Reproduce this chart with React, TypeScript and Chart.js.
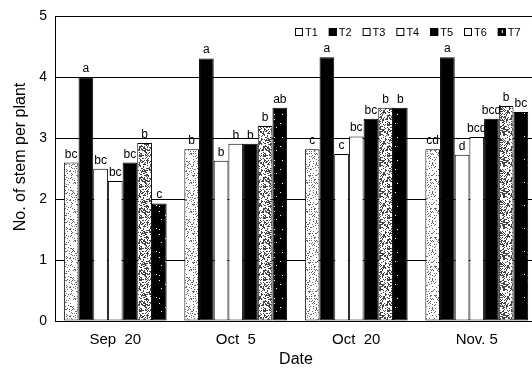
import React, { useEffect, useRef } from "react";
import { Chart, registerables } from "chart.js";

Chart.register(...registerables);

const categories = ["Sep  20", "Oct  5", "Oct  20", "Nov. 5"];
const seriesNames = ["T1", "T2", "T3", "T4", "T5", "T6", "T7"];

const t1Values = [2.6, 2.82, 2.82, 2.82];
const t2Values = [4.0, 4.31, 4.33, 4.33];
const t3Values = [2.5, 2.63, 2.74, 2.73];
const t4Values = [2.3, 2.91, 3.03, 3.02];
const t5Values = [2.6, 2.91, 3.32, 3.32];
const t6Values = [2.92, 3.2, 3.5, 3.53];
const t7Values = [1.93, 3.5, 3.5, 3.43];

const t1Letters = ["bc", "b", "c", "cd"];
const t2Letters = ["a", "a", "a", "a"];
const t3Letters = ["bc", "b", "c", "d"];
const t4Letters = ["bc", "b", "bc", "bcd"];
const t5Letters = ["bc", "b", "bc", "bcd"];
const t6Letters = ["b", "b", "b", "b"];
const t7Letters = ["c", "ab", "b", "bc"];

const yAxisTitle = "No. of stem per plant";
const xAxisTitle = "Date";

const FONT = "'Liberation Sans', Arial, Helvetica, sans-serif";

// deterministic speckle texture (hash of pixel coordinates)
function speckle(bg: string, fg: string, size: number, threshold: number, salt: number) {
  const c = document.createElement("canvas");
  c.width = size;
  c.height = size;
  const g = c.getContext("2d")!;
  g.fillStyle = bg;
  g.fillRect(0, 0, size, size);
  g.fillStyle = fg;
  for (let y = 0; y < size; y++) {
    for (let x = 0; x < size; x++) {
      let h = Math.imul(x + 1, 374761393) ^ Math.imul(y + 7 + salt, 668265263);
      h = Math.imul(h ^ (h >>> 13), 1274126177);
      h = (h ^ (h >>> 16)) >>> 0;
      if (h % 1000 < threshold) g.fillRect(x, y, 1, 1);
    }
  }
  const ctx = document.createElement("canvas").getContext("2d")!;
  return ctx.createPattern(c, "repeat") as CanvasPattern;
}

export default function App() {
  const ref = useRef<HTMLCanvasElement | null>(null);

  useEffect(() => {
    const canvas = ref.current;
    if (!canvas) return;
    Chart.defaults.font.family = FONT;

    const lightStipple = speckle("#ffffff", "#666666", 29, 170, 3);
    const denseStipple = speckle("#ffffff", "#444444", 31, 400, 11);
    const darkSpeck = speckle("#000000", "#ffffff", 23, 12, 5);

    const values = [t1Values, t2Values, t3Values, t4Values, t5Values, t6Values, t7Values];
    const letters = [t1Letters, t2Letters, t3Letters, t4Letters, t5Letters, t6Letters, t7Letters];
    const fills: (string | CanvasPattern)[] = [
      lightStipple, "#000000", "#ffffff", "#ffffff", "#000000", denseStipple, darkSpeck,
    ];
    const legendFills = ["#ffffff", "#000000", "#ffffff", "#ffffff", "#000000", "#ffffff", "#000000"];

    const lettersPlugin = {
      id: "letters",
      afterDatasetsDraw(chart: any) {
        const ctx = chart.ctx;
        ctx.save();
        ctx.font = `12px ${FONT}`;
        ctx.fillStyle = "#000";
        ctx.textAlign = "center";
        ctx.textBaseline = "alphabetic";
        chart.data.datasets.forEach((_: any, i: number) => {
          const meta = chart.getDatasetMeta(i);
          meta.data.forEach((el: any, j: number) => {
            ctx.fillText(letters[i][j], el.x, el.y - 5);
          });
        });
        ctx.restore();
      },
    };

    const legendPlugin = {
      id: "customLegend",
      afterDraw(chart: any) {
        const ctx = chart.ctx;
        ctx.save();
        // legend
        ctx.font = `11px ${FONT}`;
        ctx.textBaseline = "middle";
        ctx.textAlign = "left";
        let x = 295;
        const y = 28;
        chart.data.datasets.forEach((ds: any, i: number) => {
          ctx.fillStyle = legendFills[i];
          ctx.fillRect(x, y, 8, 8);
          ctx.strokeStyle = "#000";
          ctx.lineWidth = 1;
          ctx.strokeRect(x + 0.5, y + 0.5, 7, 7);
          if (i === 6) {
            ctx.fillStyle = "#fff";
            ctx.fillRect(x + 4, y + 2, 1, 3);
          }
          ctx.fillStyle = "#000";
          ctx.fillText(ds.label, x + 10, y + 4.5);
          x += 33.8;
        });
        // y axis title
        ctx.font = `16px ${FONT}`;
        ctx.textAlign = "center";
        ctx.textBaseline = "middle";
        ctx.translate(21, 157);
        ctx.rotate(-Math.PI / 2);
        ctx.fillText(yAxisTitle, 0, 0);
        ctx.restore();
      },
    };

    const chart = new Chart(canvas, {
      type: "bar",
      data: {
        labels: categories,
        datasets: seriesNames.map((name, i) => ({
          label: name,
          data: values[i],
          backgroundColor: fills[i],
          borderColor: "#000000",
          borderWidth: 1,
          borderSkipped: false,
          categoryPercentage: 0.853,
          barPercentage: 1,
        })),
      },
      options: {
        responsive: false,
        animation: false,
        devicePixelRatio: 1,
        layout: { padding: { top: 15, right: 3, left: 0, bottom: 0 } },
        plugins: { legend: { display: false }, tooltip: { enabled: false } },
        scales: {
          x: {
            grid: { display: false, drawTicks: false },
            border: { display: true, color: "#000", width: 1 },
            ticks: { color: "#000", font: { size: 15 }, padding: 10, maxRotation: 0 },
            title: {
              display: true,
              text: xAxisTitle,
              color: "#000",
              font: { size: 16 },
              padding: { top: 0, bottom: 0 },
            },
            afterFit: (s: any) => {
              s.height = 48;
            },
          },
          y: {
            min: 0,
            max: 5,
            ticks: { stepSize: 1, color: "#000", font: { size: 14 }, padding: 8 },
            grid: { color: "#000", drawTicks: false, lineWidth: 1 },
            border: { display: true, color: "#000", width: 1 },
            title: { display: false },
            afterFit: (s: any) => {
              s.width = 55;
            },
          },
        },
      } as any,
      plugins: [lettersPlugin, legendPlugin],
    });

    return () => chart.destroy();
  }, []);

  return (
    <div
      style={{
        position: "fixed",
        left: 0,
        top: 0,
        width: 532,
        height: 369,
        overflow: "hidden",
        background: "#fff",
      }}
    >
      <canvas ref={ref} width={540} height={369} style={{ display: "block", width: 540, height: 369 }} />
    </div>
  );
}
